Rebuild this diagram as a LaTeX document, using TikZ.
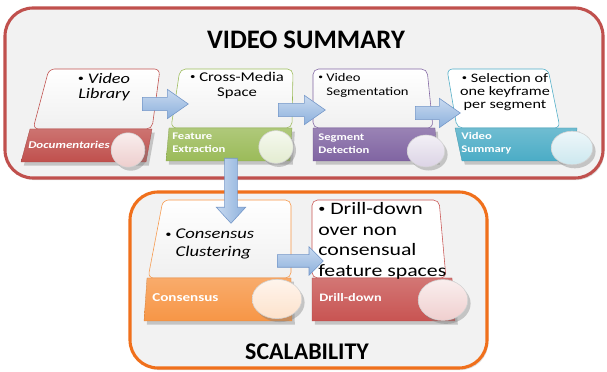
\documentclass[tikz,border=0pt]{standalone}
\usepackage{fontspec}
\usepackage{graphicx}
\setmainfont{Carlito}
\newfontfamily\cardfont[FakeStretch=1.25]{Carlito}
\usetikzlibrary{shapes.arrows,shadows,positioning}

\newcommand{\bul}{\raisebox{.2ex}{\scalebox{.65}{\textbullet}}}

\definecolor{boxgray}{RGB}{242,242,242}
\definecolor{sumred}{RGB}{192,80,77}
\definecolor{scalorange}{RGB}{240,112,28}
\definecolor{docred}{RGB}{192,80,77}
\definecolor{featgreen}{RGB}{155,187,89}
\definecolor{segpurple}{RGB}{128,100,162}
\definecolor{sumteal}{RGB}{75,172,198}
\definecolor{consorange}{RGB}{247,150,70}
\definecolor{drillred}{RGB}{200,84,82}
\definecolor{arrowlight}{RGB}{200,218,240}
\definecolor{arrowdark}{RGB}{141,176,220}
\definecolor{arrowline}{RGB}{115,150,200}

\tikzset{
    frame/.style={
        line width=2.2pt,
        fill=boxgray,
        rounded corners=0.7cm,
        drop shadow={shadow xshift=1pt, shadow yshift=-1.5pt, opacity=.25}
    },
    body/.style={
        draw=#1,
        thin,
        top color=white,
        bottom color=gray!12,
        rounded corners=4pt
    },
    whitebody/.style={
        draw=#1,
        thin,
        fill=white,
        rounded corners=4pt
    },
    bar/.style={
        top color=#1!80!white,
        bottom color=#1,
        draw=#1!85!black,
        very thin,
        drop shadow={shadow xshift=2pt, shadow yshift=-2.5pt, opacity=.4}
    },
    disc/.style={
        draw=gray!35,
        thin,
        top color=#1!10!white,
        bottom color=#1!28!white,
        drop shadow={shadow xshift=2pt, shadow yshift=-2.5pt, opacity=.4}
    },
    cardtext/.style={
        inner sep=0pt
    },
    bartext/.style={
        inner sep=0pt,
        anchor=west,
        align=left,
        text=white
    },
    title/.style={
        inner sep=0pt,
        font=\bfseries\fontsize{19}{22}\selectfont
    },
    barrow/.style={
        single arrow,
        draw=arrowline,
        top color=arrowlight,
        bottom color=arrowdark,
        inner sep=0.16cm,
        single arrow head extend=0.2cm,
        single arrow tip angle=70,
        anchor=tail
    }
}

\begin{document}
\begin{tikzpicture}[x=0.025cm, y=-0.025cm]
    \useasboundingbox (0,0) rectangle (607,372);

    % frames
    \draw[frame, draw=sumred] (5,8) rectangle (603,178);
    \draw[frame, draw=scalorange] (130,192) rectangle (487,368);
    \node[title] (vs) at (306,40) {VIDEO SUMMARY};
    \node[title, font=\bfseries\fontsize{17}{20}\selectfont] (scal) at (307,352) {SCALABILITY};

    % card bodies
    \draw[body=docred] (49,69) -- (160,69) -- (152,129) -- (33,129) -- cycle;
    \draw[body=featgreen] (180,69) -- (293,69) -- (292,128) -- (171,128) -- cycle;
    \draw[body=segpurple] (313,69) -- (427,69) -- (433,128) -- (313,128) -- cycle;
    \draw[whitebody=sumteal] (447,69) -- (548,69) -- (560,128) -- (457,128) -- cycle;
    \draw[body=consorange] (163,200) -- (291,200) -- (291,278) -- (148,278) -- cycle;
    \draw[whitebody=drillred] (312,200) -- (439,200) -- (446,278) -- (312,278) -- cycle;

    % bars
    \draw[bar=docred] (30,129) -- (152,129) -- (146,162) -- (21,162) -- cycle;
    \draw[bar=featgreen] (169,128) -- (292,128) -- (290,161) -- (166,161) -- cycle;
    \draw[bar=segpurple] (313,128) -- (435,128) -- (437,161) -- (313,161) -- cycle;
    \draw[bar=sumteal] (455,128) -- (577,128) -- (575,161) -- (462,161) -- cycle;
    \draw[bar=consorange] (147,278) -- (291,278) -- (292,321) -- (144,321) -- cycle;
    \draw[bar=drillred] (312,278) -- (452,278) -- (455,321) -- (312,321) -- cycle;

    % discs
    \draw[disc=docred] (128,150) ellipse [x radius=0.42cm, y radius=0.43cm];
    \draw[disc=featgreen] (276,147) ellipse [x radius=0.43cm, y radius=0.41cm];
    \draw[disc=segpurple] (426,151) ellipse [x radius=0.47cm, y radius=0.4cm];
    \draw[disc=sumteal] (572,148) ellipse [x radius=0.52cm, y radius=0.42cm];
    \draw[disc=consorange] (277,299) ellipse [x radius=0.62cm, y radius=0.49cm];
    \draw[disc=drillred] (443,300) ellipse [x radius=0.62cm, y radius=0.51cm];

    % card texts
    \node[cardtext, align=center, font=\cardfont\itshape\fontsize{10.4}{10.7}\selectfont] (lib) at (104,87) {\bul\ Video\\Library};
    \node[cardtext, align=center, font=\cardfont\fontsize{9.5}{10.7}\selectfont] (cms) at (237,85) {\bul\ Cross-Media\\Space};
    \node[cardtext, anchor=west, align=left, font=\cardfont\fontsize{8.3}{10}\selectfont] (vseg) at (318,85) {\bul\ Video\\\phantom{\bul\ }Segmentation};
    \node[cardtext, align=center, font=\cardfont\fontsize{9.2}{9.5}\selectfont] (sel) at (505,92) {\bul\ Selection of\\one keyframe\\per segment};
    \node[cardtext, anchor=west, align=left, font=\cardfont\itshape\fontsize{10.6}{12.8}\selectfont] (ccl) at (165,244) {\bul\ Consensus\\\phantom{\bul\ }Clustering};
    \node[cardtext, anchor=west, align=left, font=\cardfont\fontsize{12.4}{14.7}\selectfont] (ddn) at (318,241) {\bul\ Drill-down\\over non\\consensual\\feature spaces};

    % bar labels
    \node[bartext, font=\cardfont\bfseries\itshape\fontsize{7.4}{9}\selectfont] (doc) at (28,145) {Documentaries};
    \node[bartext, font=\cardfont\bfseries\fontsize{7.2}{9}\selectfont] (fex) at (172,143) {Feature\\Extraction};
    \node[bartext, font=\cardfont\bfseries\fontsize{7.2}{9}\selectfont] (sdet) at (318,144) {Segment\\Detection};
    \node[bartext, font=\cardfont\bfseries\fontsize{7.2}{9}\selectfont] (vsum) at (461,143) {Video\\Summary};
    \node[bartext, font=\cardfont\bfseries\fontsize{8.6}{10}\selectfont] (cons) at (152,298) {Consensus};
    \node[bartext, font=\cardfont\bfseries\fontsize{8.1}{10}\selectfont] (drill) at (319,298) {Drill-down};

    % block arrows
    \node[barrow, minimum height=1.15cm] (a1) at (142,104) {};
    \node[barrow, minimum height=1.175cm] (a2) at (278,110) {};
    \node[barrow, minimum height=1.125cm] (a3) at (415,113) {};
    \node[barrow, minimum height=1.625cm, shape border rotate=270, single arrow tip angle=85,
          left color=arrowlight, right color=arrowdark, inner sep=0.15cm, single arrow head extend=0.21cm] (a4) at (231,158) {};
    \node[barrow, minimum height=1.15cm, single arrow tip angle=90, inner sep=0.15cm] (a5) at (277,261) {};
\end{tikzpicture}
\end{document}
